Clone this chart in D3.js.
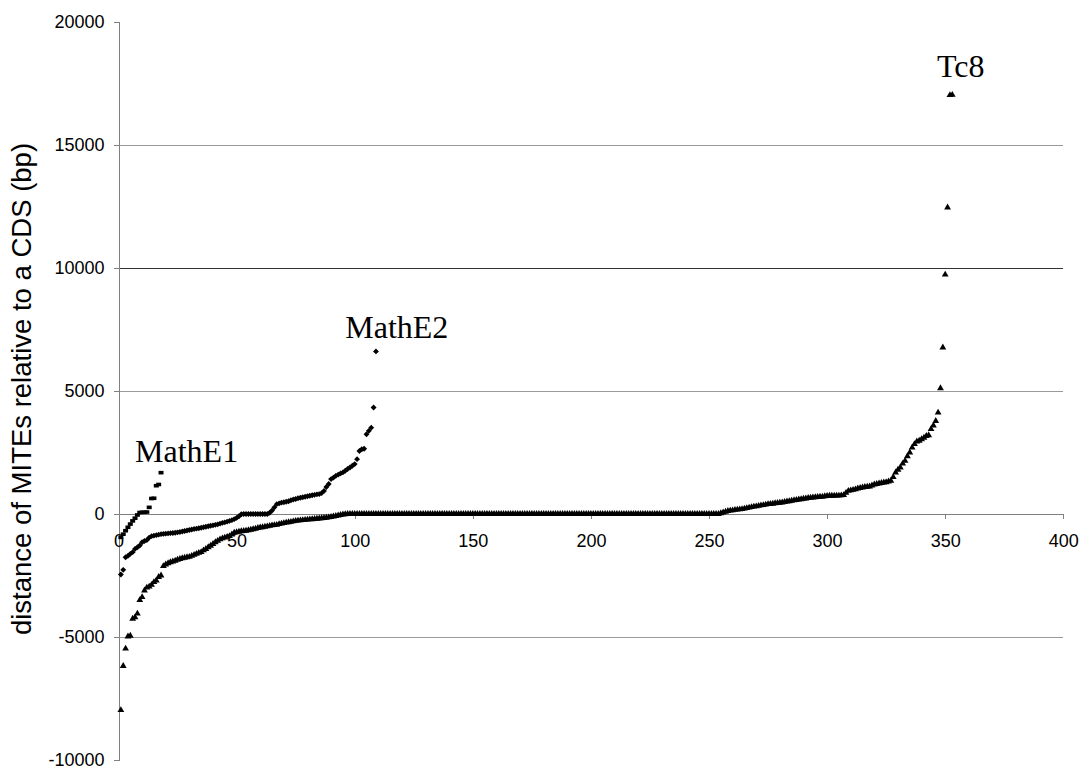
<!DOCTYPE html>
<html>
<head>
<meta charset="utf-8">
<script src="https://cdn.jsdelivr.net/npm/d3@7"></script>
<style>
  html, body { margin: 0; padding: 0; background: #fff; }
  svg { display: block; }
</style>
</head>
<body>
<svg id="chart" width="1081" height="769"></svg>
<script>
// ---- data (x = rank 1..n, y = distance in bp) ----
const mathE1Values = [-950, -820, -680, -540, -410, -280, -170, -40, 60, 70, 70, 80, 270, 630, 640, 1150, 1200, 1680];

const mathE2Values = [
  -2460, -2270, -1760, -1700, -1620, -1550, -1420, -1350, -1280, -1150,
  -1100, -1060, -960, -900, -880, -860, -840, -820, -810, -800,
  -790, -780, -770, -760, -745, -730, -710, -690, -670, -650,
  -630, -610, -595, -580, -560, -540, -520, -500, -480, -460,
  -440, -420, -390, -360, -340, -310, -280, -250, -210, -160,
  -90, -10, 0, 0, 0, 0, 0, 0, 0, 0,
  0, 0, 0, 50, 140, 270, 400, 430, 460, 480,
  500, 520, 560, 590, 610, 640, 660, 680, 700, 720,
  740, 760, 780, 800, 810, 850, 940, 1100, 1220, 1420,
  1480, 1550, 1600, 1650, 1690, 1760, 1830, 1890, 1960, 2030,
  2230, 2560, 2630, 2650, 3240, 3380, 3510, 4330, 6610
];

const tc8Values = [
  -7970, -6180, -5470, -4980, -4950, -4260, -4200, -4050, -3500, -3380,
  -3110, -2990, -2950, -2880, -2770, -2700, -2560, -2500, -2120, -2050,
  -2000, -1960, -1930, -1900, -1860, -1830, -1800, -1780, -1760, -1740,
  -1700, -1660, -1620, -1580, -1550, -1480, -1420, -1350, -1290, -1220,
  -1150, -1090, -1030, -990, -960, -930, -900, -830, -760, -740,
  -720, -700, -690, -680, -660, -640, -620, -600, -570, -550,
  -540, -520, -500, -480, -460, -450, -440, -410, -390, -370,
  -350, -335, -320, -300, -280, -270, -260, -250, -240, -230,
  -220, -210, -200, -190, -180, -170, -160, -150, -135, -120,
  -100, -80, -60, -40, -20, -10,
  0, 0, 0, 0, 0, 0, 0, 0, 0, 0, 0, 0, 0, 0, 0, 0, 0, 0, 0, 0,
  0, 0, 0, 0, 0, 0, 0, 0, 0, 0, 0, 0, 0, 0, 0, 0, 0, 0, 0, 0,
  0, 0, 0, 0, 0, 0, 0, 0, 0, 0, 0, 0, 0, 0, 0, 0, 0, 0, 0, 0,
  0, 0, 0, 0, 0, 0, 0, 0, 0, 0, 0, 0, 0, 0, 0, 0, 0, 0, 0, 0,
  0, 0, 0, 0, 0, 0, 0, 0, 0, 0, 0, 0, 0, 0, 0, 0, 0, 0, 0, 0,
  0, 0, 0, 0, 0, 0, 0, 0, 0, 0, 0, 0, 0, 0, 0, 0, 0, 0, 0, 0,
  0, 0, 0, 0, 0, 0, 0, 0, 0, 0, 0, 0, 0, 0, 0, 0, 0, 0, 0, 0,
  0, 0, 0, 0, 0, 0, 0, 0, 0, 0, 0, 0, 0, 0, 0, 0, 0, 0,
  30, 60, 90, 120, 140, 150, 170, 180, 190, 200,
  220, 240, 260, 280, 300, 310, 330, 350, 360, 380,
  400, 410, 420, 440, 450, 460, 470, 490, 510, 520,
  540, 560, 570, 590, 600, 620, 630, 650, 660, 670,
  680, 690, 700, 700, 720, 730, 740, 740, 740, 750,
  750, 760, 770, 860, 940, 960, 980, 1000, 1040, 1060,
  1080, 1100, 1110, 1120, 1160, 1200, 1220, 1240, 1260, 1280,
  1290, 1320, 1350, 1500, 1690, 1800, 1890, 2050, 2160, 2350,
  2500, 2700, 2840, 2950, 2980, 3040, 3100, 3170, 3200, 3450,
  3600, 3780, 4120, 5110, 6770, 9730, 12460, 17030, 17040
];

const xTicks = [0, 50, 100, 150, 200, 250, 300, 350, 400];
const yTicks = [-10000, -5000, 0, 5000, 10000, 15000, 20000];
const gridValues = [-5000, 5000, 10000, 15000];
const yTitle = "distance of MITEs relative to a CDS (bp)";
const seriesLabels = ["MathE1", "MathE2", "Tc8"];

// ---- layout ----
const svg = d3.select("#chart");
const x = d3.scaleLinear().domain([0, 400]).range([118.5, 1063.3]);
const y = d3.scaleLinear().domain([-10000, 20000]).range([760, 22]);

// gridlines
svg.append("g").selectAll("line").data(gridValues).join("line")
  .attr("x1", x(0)).attr("x2", x(400))
  .attr("y1", d => y(d)).attr("y2", d => y(d))
  .attr("stroke", d => d === 10000 ? "#333" : "#9a9a9a")
  .attr("stroke-width", 1)
  .attr("shape-rendering", "crispEdges");

// y axis
const yAxis = svg.append("g")
  .attr("transform", `translate(${x(0)},0)`)
  .call(d3.axisLeft(y).tickValues(yTicks).tickSize(5).tickPadding(9)
    .tickFormat(d => String(d)));
yAxis.selectAll("path, line").attr("stroke", "#808080").attr("shape-rendering", "crispEdges");
yAxis.selectAll("text").attr("font-family", "Liberation Sans, Arial, sans-serif")
  .attr("font-size", 18).attr("fill", "#000");

// x axis at y=0
const xAxis = svg.append("g")
  .attr("transform", `translate(0,${y(0)})`)
  .call(d3.axisBottom(x).tickValues(xTicks).tickSize(5).tickPadding(15)
    .tickFormat(d => String(d)));
xAxis.selectAll("path, line").attr("stroke", "#808080").attr("shape-rendering", "crispEdges");
xAxis.selectAll("text").attr("font-family", "Liberation Sans, Arial, sans-serif")
  .attr("font-size", 18).attr("fill", "#000");

// y title
svg.append("text")
  .attr("transform", `translate(31,389) rotate(-90)`)
  .attr("text-anchor", "middle")
  .attr("font-family", "Liberation Sans, Arial, sans-serif")
  .attr("font-size", 27.5)
  .attr("fill", "#000")
  .text(yTitle);

// series
const toPts = vals => vals.map((v, i) => ({ xv: i + 1, yv: v }));

// Tc8 triangles
svg.append("g").selectAll("path").data(toPts(tc8Values)).join("path")
  .attr("d", d3.symbol(d3.symbolTriangle, 20))
  .attr("transform", d => `translate(${x(d.xv)},${y(d.yv)})`)
  .attr("fill", "#000");

// MathE2 diamonds
svg.append("g").selectAll("path").data(toPts(mathE2Values)).join("path")
  .attr("d", d3.symbol(d3.symbolDiamond2, 22))
  .attr("transform", d => `translate(${x(d.xv)},${y(d.yv)})`)
  .attr("fill", "#000");

// MathE1 squares
svg.append("g").selectAll("rect").data(toPts(mathE1Values)).join("rect")
  .attr("x", d => x(d.xv) - 2.5).attr("y", d => y(d.yv) - 1.8)
  .attr("width", 5).attr("height", 3.6)
  .attr("fill", "#000");

// series labels
const labelPos = [
  { t: seriesLabels[0], xv: 7, yv: 2130 },
  { t: seriesLabels[1], xv: 96, yv: 7150 },
  { t: seriesLabels[2], xv: 346.5, yv: 17770 }
];
svg.append("g").selectAll("text").data(labelPos).join("text")
  .attr("x", d => x(d.xv)).attr("y", d => y(d.yv))
  .attr("font-family", "Liberation Serif, Times New Roman, serif")
  .attr("font-size", 32)
  .attr("fill", "#000")
  .text(d => d.t);
</script>
</body>
</html>
